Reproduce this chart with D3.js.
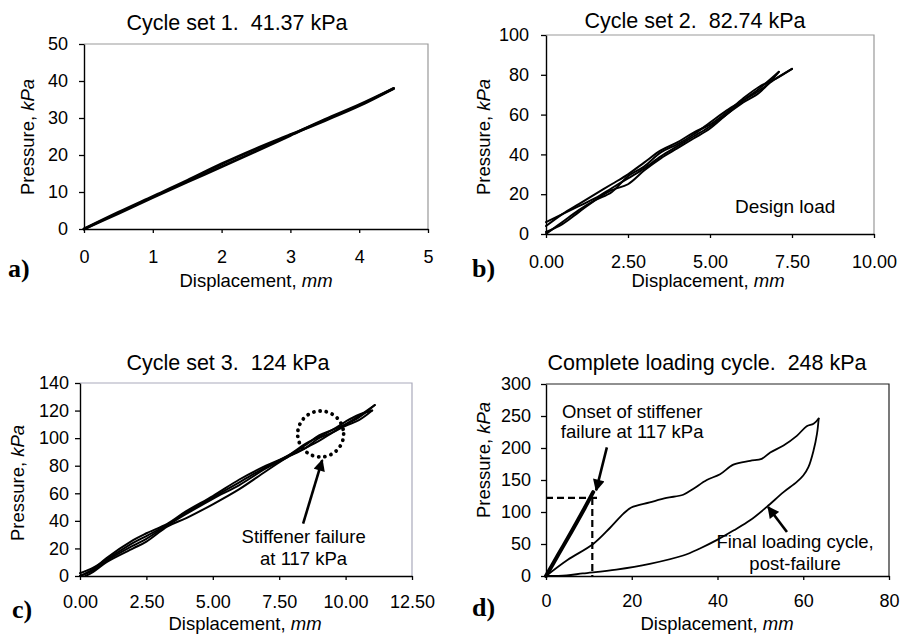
<!DOCTYPE html>
<html><head><meta charset="utf-8">
<script src="https://cdn.jsdelivr.net/npm/d3@7"></script>
<style>
html,body{margin:0;padding:0;background:#fff;}
svg text{font-family:"Liberation Sans",Arial,sans-serif;fill:#000;white-space:pre;}
</style></head>
<body><svg id="chart" width="901" height="634"></svg>
<script>
// ---------- data ----------
const titles = ["Cycle set 1.  41.37 kPa","Cycle set 2.  82.74 kPa","Cycle set 3.  124 kPa","Complete loading cycle.  248 kPa"];
const panelLetters = ["a)","b)","c)","d)"];
const xTicksA = [0,1,2,3,4,5];
const yTicksA = [0,10,20,30,40,50];
const xTicksB = [0,2.5,5,7.5,10];
const yTicksB = [0,20,40,60,80,100];
const xTicksC = [0,2.5,5,7.5,10,12.5];
const yTicksC = [0,20,40,60,80,100,120,140];
const xTicksD = [0,20,40,60,80];
const yTicksD = [0,50,100,150,200,250,300];

// panel a: cycles (displacement mm, pressure kPa)
const aLoad = [[0,0],[0.5,4.5],[1,8.8],[1.5,13.1],[2,17.6],[2.5,21.7],[3,25.5],[3.5,29.3],[4,33.3],[4.5,38]];
const aUnload = [[4.5,38],[4,33.6],[3.5,29.6],[3,25.3],[2.5,21],[2,16.8],[1.5,12.7],[1,8.5],[0.5,4.2],[0,0]];

// panel b: cycles
const bCycle1 = [[0,6],[0.5,10],[1,14],[1.5,18],[2,23],[2.5,28],[3,33],[3.5,39],[4,44],[4.5,49],[5,54],[5.5,60],[6,66],[6.5,71],[7.1,81.5]];
const bCycle2 = [[7.1,81.5],[6.5,73],[6,67],[5.5,60],[5,53],[4.5,48],[4,43],[3.5,38],[3,32],[2.5,25],[2,22],[1.5,17],[1,11],[0.5,5],[0,1]];
const bCycle3 = [[0,0],[0.5,6],[1,12],[1.5,17],[2,21],[2.5,29],[3,34],[3.5,41],[4,45],[4.5,50],[5,56],[5.5,62],[6,67],[6.5,72],[7,78],[7.5,83]];
const bCycle4 = [[7.5,83],[7,78],[6.5,74],[6,68],[5.5,61],[5,55],[4.5,51],[4,46],[3.5,42],[3,36],[2.5,30],[2,25],[1.5,20],[1,15],[0.5,10],[0,4]];

// panel c: cycles
const cCycle1 = [[0,0],[0.5,5],[1,13],[2,26],[2.5,31],[3.3,38],[4,47],[5,58],[6,70],[7,80],[7.8,87],[8.5,95],[9,102],[9.5,106],[10,110],[10.5,115],[11.1,124]];
const cCycle2 = [[11.1,124],[10.5,116],[10,110],[9.5,104],[9,98],[8.5,93],[7.8,86],[7,76],[6,63],[5,52],[4,42],[3.3,36],[2.5,25],[2,20],[1,10],[0.5,3],[0.2,0]];
const cCycle3 = [[0,2],[0.5,6],[1,12],[2,24],[2.5,29],[3.3,37],[4,45],[5,56],[6,66],[7,78],[7.8,86],[8.5,93],[9,100],[9.5,104],[10,109],[10.5,113],[11,120]];
const cCycle4 = [[11,120],[10.5,117],[10,112],[9.5,106],[9,101],[8.5,96],[7.8,87],[7,79],[6,68],[5,57],[4,46],[3.3,37],[2.5,27],[2,22],[1,11],[0.5,4],[0,0]];

// panel d: pre-failure cycles and final loop
const dPreFailure = [[0,0],[3,35],[6,70],[9,106],[11,131]];
const dFinalUpper = [[0,0],[5,25],[11,50],[14.9,75],[18,97],[19.9,107],[24.2,115],[28.1,122],[32,127],[34.3,136],[37.5,150],[40.6,159],[43.7,174],[47.6,180],[50.3,183],[52.3,193],[55.4,204],[58.5,219],[60.8,234],[62.4,238],[63.6,246]];
const dFinalLower = [[63.6,246],[63.2,222],[62.4,196],[61.2,170],[60,157],[58.5,147],[55.4,131],[51.5,108],[47.6,87],[43.7,71],[39.8,56],[35.9,43],[32,32],[24.2,19],[16.4,10],[8.6,4],[4.8,1],[0,0]];
const dOnsetLevel = 122;   // kPa (dashed guide)
const dOnsetDisp = 10.8;   // mm

// ---------- layout ----------
const svg = d3.select("#chart");
const panels = [
  {left:84, top:44, right:428, bottom:229, xd:[0,5], yd:[0,50], xt:xTicksA, yt:yTicksA, xf:d3.format("d"), yf:d3.format("d"),
   title:[237,30], letter:[8,277], xlab:[256,287], ylab:[28,137], ypad:11, xpad:17, frame:"#999"},
  {left:546, top:35, right:874, bottom:234, xd:[0,10], yd:[0,100], xt:xTicksB, yt:yTicksB, xf:d3.format(".2f"), yf:d3.format("d"),
   title:[695,28], letter:[472,277], xlab:[708,287], ylab:[484,137], ypad:12, xpad:17, frame:"#999"},
  {left:80, top:383, right:412, bottom:576, xd:[0,12.5], yd:[0,140], xt:xTicksC, yt:yTicksC, xf:d3.format(".2f"), yf:d3.format("d"),
   title:[228,370], letter:[12,618], xlab:[245,630], ylab:[18,483], ypad:6, xpad:15, frame:"#aab"},
  {left:546, top:384, right:889, bottom:576, xd:[0,80], yd:[0,300], xt:xTicksD, yt:yTicksD, xf:d3.format("d"), yf:d3.format("d"),
   title:[707,370], letter:[472,616], xlab:[717,630], ylab:[484,460], ypad:10, xpad:14, frame:"#222"}
];

svg.append("defs").append("marker")
  .attr("id","arrow").attr("viewBox","0 0 10 10").attr("refX",9).attr("refY",5)
  .attr("markerWidth",5).attr("markerHeight",4.5).attr("orient","auto")
  .attr("markerUnits","strokeWidth")
  .append("path").attr("d","M0,0 L10,5 L0,10 z").attr("fill","#000");

panels.forEach((p,i)=>{
  p.x = d3.scaleLinear().domain(p.xd).range([p.left,p.right]);
  p.y = d3.scaleLinear().domain(p.yd).range([p.bottom,p.top]);
  const g = svg.append("g");
  g.append("path").attr("d",`M${p.left},${p.top}H${p.right}V${p.bottom}`)
    .attr("fill","none").attr("stroke",p.frame).attr("stroke-width",1.2);
  const ax = g.append("g").attr("transform",`translate(0,${p.bottom})`)
    .call(d3.axisBottom(p.x).tickValues(p.xt).tickFormat(p.xf).tickSize(4).tickPadding(p.xpad).tickSizeOuter(0));
  const ay = g.append("g").attr("transform",`translate(${p.left},0)`)
    .call(d3.axisLeft(p.y).tickValues(p.yt).tickFormat(p.yf).tickSize(5).tickPadding(p.ypad).tickSizeOuter(0));
  [ax,ay].forEach(a=>{
    a.select(".domain").attr("stroke","#000").attr("stroke-width",1.4);
    a.selectAll(".tick line").attr("stroke","#000").attr("stroke-width",1.3);
    a.selectAll(".tick text").style("font-size","18px").attr("fill","#000").style("font-family",'"Liberation Sans",Arial,sans-serif');
  });
  g.append("text").attr("x",p.title[0]).attr("y",p.title[1]).attr("text-anchor","middle")
    .style("font-size","21.5px").text(titles[i]);
  g.append("text").attr("x",p.letter[0]).attr("y",p.letter[1])
    .style("font-family",'"Liberation Serif","Times New Roman",serif').style("font-weight","bold").style("font-size","26px")
    .text(panelLetters[i]);
  const xl = g.append("text").attr("x",p.xlab[0]).attr("y",p.xlab[1]).attr("text-anchor","middle").style("font-size","18.5px");
  xl.append("tspan").text("Displacement, ");
  xl.append("tspan").style("font-style","italic").text("mm");
  const yl = g.append("text").attr("transform",`translate(${p.ylab[0]},${p.ylab[1]}) rotate(-90)`)
    .attr("text-anchor","middle").attr("dy","0.35em").style("font-size","18.5px");
  yl.append("tspan").text("Pressure, ");
  yl.append("tspan").style("font-style","italic").text("kPa");
});

function drawLines(p, series, width){
  const line = d3.line().x(d=>p.x(d[0])).y(d=>p.y(d[1])).curve(d3.curveCatmullRom.alpha(0.5));
  svg.append("g").selectAll("path").data(series).join("path")
    .attr("d",line).attr("fill","none").attr("stroke","#000")
    .attr("stroke-width",width).attr("stroke-linejoin","round").attr("stroke-linecap","round");
}
const [pa,pb,pc,pd] = panels;
drawLines(pa,[aLoad,aUnload],2.8);
drawLines(pb,[bCycle1,bCycle2,bCycle3,bCycle4],2);
drawLines(pc,[cCycle1,cCycle2,cCycle3,cCycle4],2);
drawLines(pd,[dFinalUpper,dFinalLower],1.8);
drawLines(pd,[dPreFailure],4);

function note(p, lines, cx, baselines, size){
  lines.forEach((t,k)=>svg.append("text").attr("x",p.x(cx)).attr("y",p.y(baselines[k]))
    .attr("text-anchor","middle").style("font-size",size).text(t));
}
function arrow(p, from, to){
  svg.append("line").attr("x1",p.x(from[0])).attr("y1",p.y(from[1]))
    .attr("x2",p.x(to[0])).attr("y2",p.y(to[1]))
    .attr("stroke","#000").attr("stroke-width",2.6).attr("marker-end","url(#arrow)");
}

note(pb,["Design load"],7.29,[10.4],"19px");

svg.append("circle").attr("cx",pc.x(9.06)).attr("cy",pc.y(103)).attr("r",23)
  .attr("fill","none").attr("stroke","#000").attr("stroke-width",3.8)
  .attr("stroke-dasharray","0.1 6.2").attr("stroke-linecap","round");
arrow(pc,[8.4,38],[9.12,84]);
note(pc,["Stiffener failure","at 117 kPa"],8.42,[23.7,7.8],"18.5px");

svg.append("path")
  .attr("d",`M${pd.x(0)},${pd.y(dOnsetLevel)}H${pd.x(12)}M${pd.x(dOnsetDisp)},${pd.y(dOnsetLevel)}V${pd.y(0)}`)
  .attr("fill","none").attr("stroke","#000").attr("stroke-width",2.2).attr("stroke-dasharray","7 4");
arrow(pd,[14.2,201],[11.7,134]);
note(pd,["Onset of stiffener","failure at 117 kPa"],20.1,[247,216],"18.5px");
arrow(pd,[56.2,68.8],[51.8,107.8]);
note(pd,["Final loading cycle,","post-failure"],58.1,[43.8,9.4],"18.5px");
</script></body></html>
